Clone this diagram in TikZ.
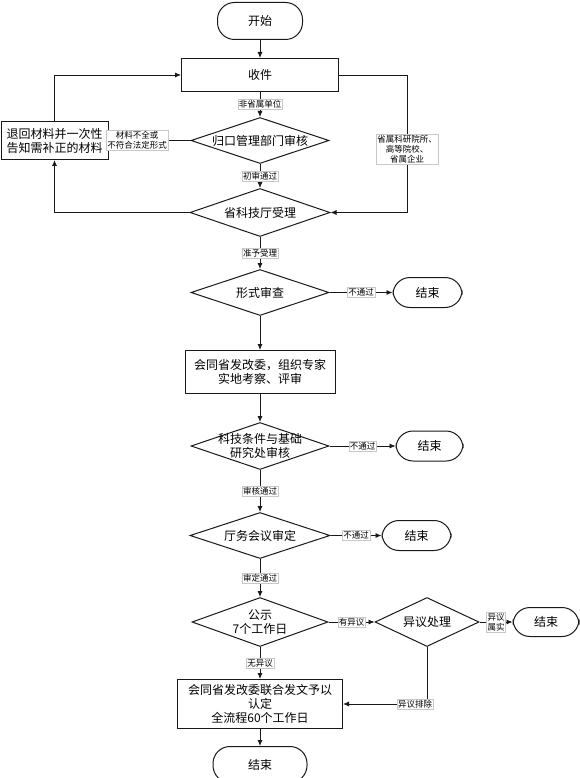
\documentclass[tikz,border=0pt]{standalone}
\usepackage{fontspec}
\setmainfont{Noto Sans CJK SC}
\usepackage{xcolor}
\usetikzlibrary{arrows.meta,positioning,shapes.geometric}
\definecolor{ink}{RGB}{25,25,25}
\definecolor{grey}{RGB}{200,200,200}

\begin{document}
\begin{tikzpicture}[font=\fontsize{12}{14}\selectfont,>={Latex[length=6pt,width=5pt]},
 line width=0.8pt,draw=ink,
 b/.style={draw=ink,line width=1pt,align=center,inner sep=2pt},
 t/.style={draw=ink,line width=1pt,rounded corners=17pt,minimum width=85pt,minimum height=37pt},
 dia/.style={draw=ink,line width=1pt,diamond,aspect=3,inner sep=-4pt,align=center,minimum width=138pt,minimum height=46pt},
 n/.style={font=\fontsize{8.5}{10}\selectfont,fill=white,draw=grey,line width=0.4pt,inner sep=1pt,align=center}]
 \useasboundingbox[fill=white] (0,0) rectangle (580pt,-778pt);
 % main column
 \node[t](start) at (260pt,-21pt){开始};
 \node[b,below=18pt of start,minimum width=157pt,minimum height=33pt](recv){收件};
 \node[dia,below=25pt of recv](dept){归口管理部门审核};
 \node[dia,below=24pt of dept,minimum width=140pt,minimum height=48pt](acc){省科技厅受理};
 \node[dia,below=32pt of acc](form){形式审查};
 \node[b,below=34pt of form,minimum width=150pt,minimum height=43pt](expert){会同省发改委，组织专家\\实地考察、评审};
 \node[dia,below=28pt of expert,minimum height=47pt](basic){科技条件与基础\\研究处审核};
 \node[dia,below=42pt of basic,minimum width=140pt](office){厅务会议审定};
 \node[dia,below=38pt of office,minimum width=136pt,minimum height=49pt](pub){公示\\7个工作日};
 \node[b,below=32pt of pub,minimum width=165pt,minimum height=49pt](final){会同省发改委联合发文予以\\认定\\全流程60个工作日};
 \node[t,below=17pt of final,minimum width=94pt,minimum height=36pt](end){结束};
 % side nodes
 \node[b,left=82pt of dept,minimum width=107pt,minimum height=38pt](ret){退回材料并一次性\\告知需补正的材料};
 \node[t,right=63pt of form,minimum width=69pt,minimum height=30pt](end1){结束};
 \node[t,right=66pt of basic,minimum width=67pt,minimum height=30pt](end2){结束};
 \node[t,right=51pt of office,minimum width=69pt,minimum height=30pt](end3){结束};
 \node[dia,right=46pt of pub,minimum width=104pt,minimum height=49pt](obj){异议处理};
 \node[t,right=33pt of obj,minimum width=66pt,minimum height=29pt](end4){结束};
 % connectors
 \draw[->](start)--(recv);
 \draw[->](recv)--(dept) node[midway,n]{非省属单位};
 \draw[->](dept)--(acc) node[midway,n]{初审通过};
 \draw[->](recv.east)--++(68pt,0) |- (acc.east) node[pos=0.27,n]{省属科研院所、\\高等院校、\\省属企业};
 \draw[->](dept.west)--(ret) node[pos=0.65,n]{材料不全或\\不符合法定形式};
 \draw[->](acc.west) -| (ret.south);
 \draw[->](ret.north) |- (recv.west);
 \draw[->](acc)--(form) node[midway,n]{准予受理};
 \draw[->](form)--(end1) node[midway,n]{不通过};
 \draw[->](form)--(expert);
 \draw[->](expert)--(basic);
 \draw[->](basic)--(end2) node[midway,n]{不通过};
 \draw[->](basic)--(office) node[midway,n]{审核通过};
 \draw[->](office)--(end3) node[midway,n]{不通过};
 \draw[->](office)--(pub) node[midway,n]{审定通过};
 \draw[->](pub)--(obj) node[midway,n]{有异议};
 \draw[->](obj)--(end4) node[midway,n]{异议\\属实};
 \draw[->](obj.south) |- (final.east) node[pos=0.57,n]{异议排除};
 \draw[->](pub)--(final) node[midway,n]{无异议};
 \draw[->](final)--(end);
\end{tikzpicture}
\end{document}
